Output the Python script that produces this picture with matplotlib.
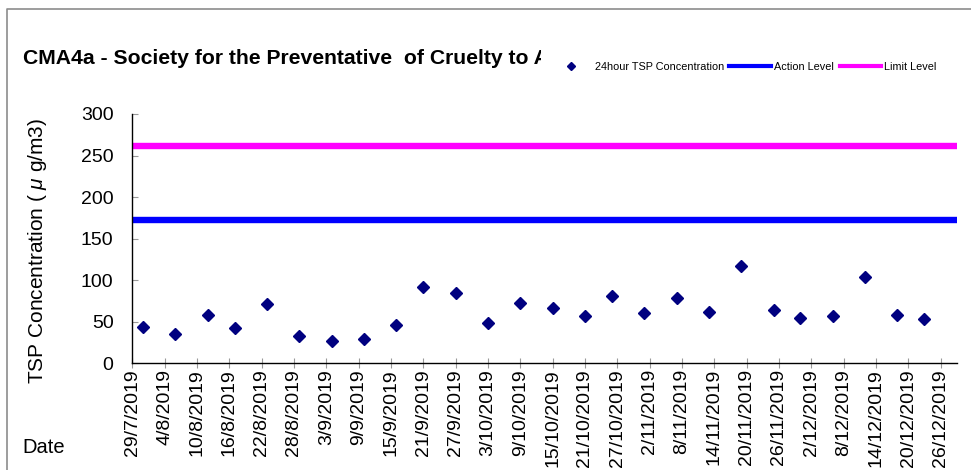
import matplotlib
matplotlib.use("Agg")
import matplotlib.pyplot as plt
import matplotlib.dates as mdates
from matplotlib.lines import Line2D
from matplotlib.ticker import FuncFormatter
import pandas as pd

# ---------------- data ----------------
sample_dates = ["2019-07-31", "2019-08-06", "2019-08-12", "2019-08-17", "2019-08-23",
                "2019-08-29", "2019-09-04", "2019-09-10", "2019-09-16", "2019-09-21",
                "2019-09-27", "2019-10-03", "2019-10-09", "2019-10-15", "2019-10-21",
                "2019-10-26", "2019-11-01", "2019-11-07", "2019-11-13", "2019-11-19",
                "2019-11-25", "2019-11-30", "2019-12-06", "2019-12-12", "2019-12-18",
                "2019-12-23"]
tsp_values = [43.3, 35.6, 58.2, 42.1, 71.0, 33.2, 26.5, 29.3, 46.5, 91.5,
              84.3, 48.5, 73.0, 66.2, 57.3, 81.0, 60.9, 79.0, 61.4, 117.2,
              63.8, 54.5, 56.6, 103.6, 58.2, 53.3]
action_level = 172
limit_level = 261
x_start = "2019-07-29"
x_end = "2019-12-29"
x_tick_step_days = 6
x_tick_last = "2019-12-26"
y_ticks = [0, 50, 100, 150, 200, 250, 300]

# title is cut off in the reference chart
title_text = "CMA4a - Society for the Preventative  of Cruelty to Ar"
legend_labels = ["24hour TSP Concentration", "Action Level", "Limit Level"]
y_label = r"TSP Concentration ( $\mu$ g/m3)"
x_label = "Date"

# ---------------- style ----------------
plt.rcParams["font.family"] = ["Liberation Sans", "DejaVu Sans"]
plt.rcParams["mathtext.fontset"] = "custom"
plt.rcParams["mathtext.rm"] = "Liberation Sans"
plt.rcParams["mathtext.it"] = "Liberation Sans:italic"

W, H = 971, 470
fig = plt.figure(figsize=(W / 100, H / 100), dpi=100)

def fx(px):
    return px / W

def fy(py):
    return 1 - py / H

left, right, top, bottom = 132.3, 956.7, 114.0, 363.3
ax = fig.add_axes([fx(left), fy(bottom), fx(right - left), (bottom - top) / H])

dates = pd.to_datetime(sample_dates)
xs, xe = pd.Timestamp(x_start), pd.Timestamp(x_end)

ax.plot([xs, xe], [action_level, action_level], color="#0000FF", lw=4.6,
        solid_capstyle="butt", clip_on=False, zorder=2)
ax.plot([xs, xe], [limit_level, limit_level], color="#FF00FF", lw=4.6,
        solid_capstyle="butt", clip_on=False, zorder=2)
ax.plot(dates, tsp_values, linestyle="none", marker="D", ms=6.3,
        color="#000080", mec="#000080", zorder=3, clip_on=False)

ax.set_xlim(xs, xe)
ax.set_ylim(0, 300)
ax.set_yticks(y_ticks)
ticks = pd.date_range(x_start, x_tick_last, freq=f"{x_tick_step_days}D")
ax.set_xticks(ticks)
ax.xaxis.set_major_formatter(FuncFormatter(
    lambda v, p: (lambda d: f"{d.day}/{d.month}/{d.year}")(mdates.num2date(v))))

for s in ["top", "right"]:
    ax.spines[s].set_visible(False)
for s in ["left", "bottom"]:
    ax.spines[s].set_linewidth(1.0)
    ax.spines[s].set_color("black")

ax.tick_params(axis="y", direction="in", length=4.5, width=0.8, color="#999999",
               pad=13.5, labelsize=14, labelcolor="black")
ax.tick_params(axis="x", direction="inout", length=6.5, width=0.8, color="#999999",
               pad=1, labelsize=14, labelrotation=90, labelcolor="black")
for lbl in ax.get_xticklabels():
    lbl.set_verticalalignment("top")

# Y label and Date label
fig.text(fx(38), fy(250.5), y_label, rotation=90, ha="center", va="center", fontsize=15)
fig.text(fx(22.7), fy(453.3), x_label, ha="left", va="baseline", fontsize=14.5)

# Title (clipped like the reference)
tax = fig.add_axes([0, fy(100), fx(541), (100 - 20) / H])
tax.axis("off")
tax.text(fx(22.7) / fx(541), (fy(64.3) - fy(100)) / ((100 - 20) / H), title_text,
         transform=tax.transAxes, ha="left", va="baseline", fontsize=15.2,
         fontweight="bold", clip_on=True)

# Legend
handles = [
    Line2D([], [], linestyle="none", marker="D", ms=4.5, color="#000080"),
    Line2D([], [], color="#0000FF", lw=3),
    Line2D([], [], color="#FF00FF", lw=3),
]
fig.legend(handles, legend_labels, loc="center left",
           bbox_to_anchor=(fx(549.9), fy(66.7)), ncol=3, frameon=False,
           fontsize=7.8, handlelength=3.86, handletextpad=0.28,
           columnspacing=0.5, borderpad=0, borderaxespad=0)

# outer chart border (top and left)
fig.add_artist(Line2D([fx(6.5), fx(6.5), fx(971)], [fy(470), fy(9), fy(9)],
                      transform=fig.transFigure, color="#8c8c8c", lw=1.2))

fig.savefig("out.png", dpi=100)
